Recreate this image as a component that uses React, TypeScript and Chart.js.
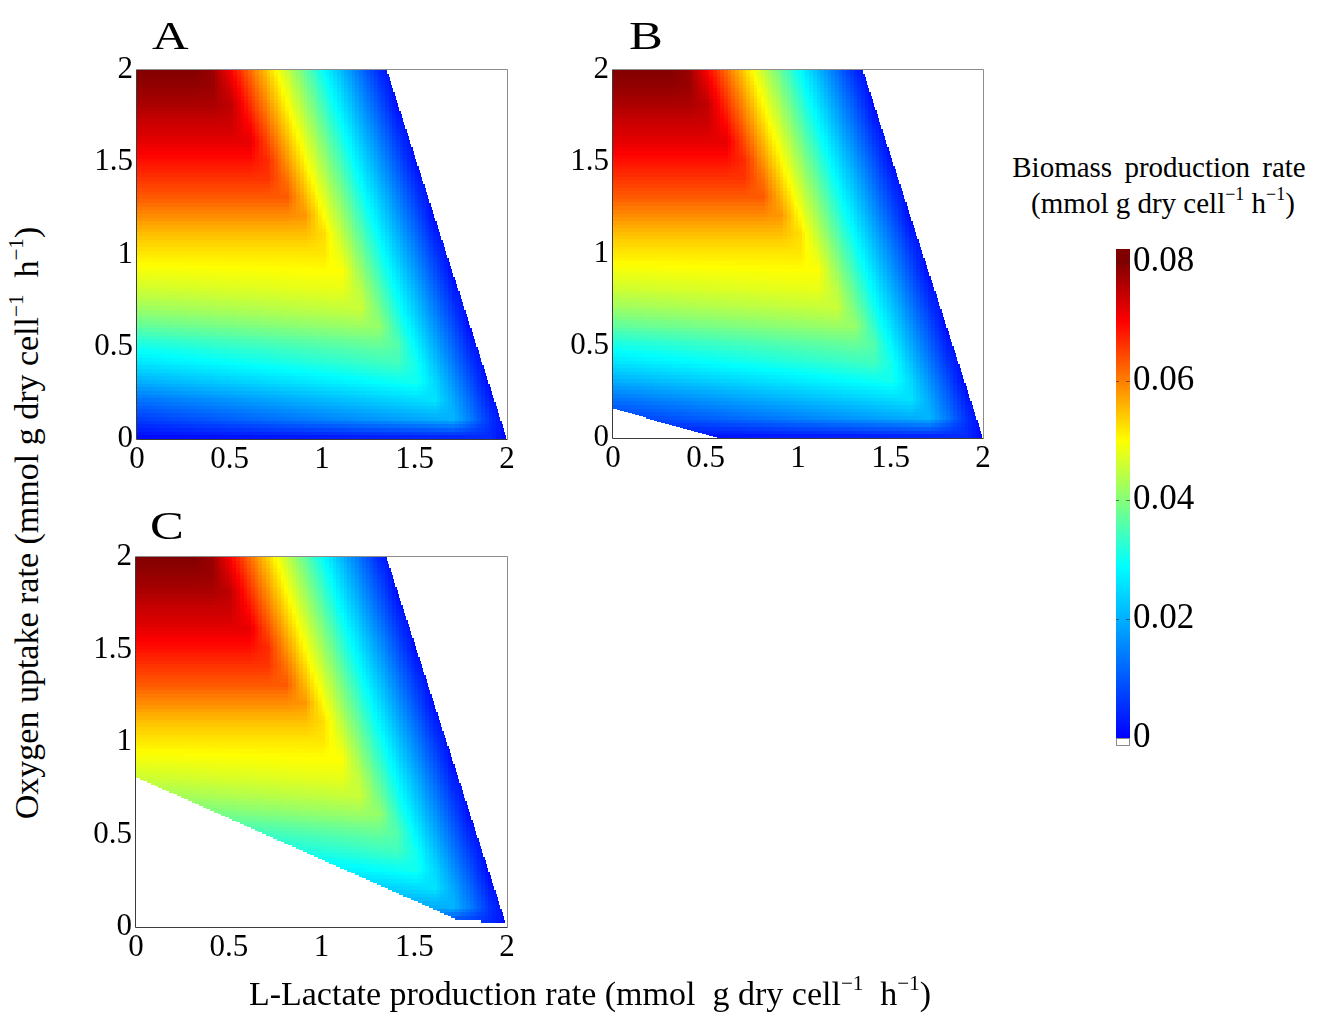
import React, { useEffect, useRef } from 'react';
import { Chart, registerables } from 'chart.js';

Chart.register(...registerables);

// ---------------- data ----------------
// grid nodes (mmol g dry cell^-1 h^-1)
const lactateNodes = [0, 0.1, 0.2, 0.3, 0.4, 0.5, 0.6, 0.7, 0.8, 0.9, 1.0, 1.1, 1.2, 1.3, 1.4, 1.5, 1.6, 1.7, 1.8, 1.9, 2.0];
const oxygenNodes = [0, 0.1, 0.2, 0.3, 0.4, 0.5, 0.6, 0.7, 0.8, 0.9, 1.0, 1.1, 1.2, 1.3, 1.4, 1.5, 1.6, 1.7, 1.8, 1.9, 2.0];

// biomass production rate, one row per oxygen node (0 -> 2), columns = lactate nodes (0 -> 2)
const biomassO00 = [0.0010, 0.0012, 0.0014, 0.0016, 0.0018, 0.0020, 0.0022, 0.0024, 0.0026, 0.0028, 0.0030, 0.0032, 0.0034, 0.0036, 0.0038, 0.0040, 0.0042, 0.0044, 0.0046, 0.0048, 0];
const biomassO01 = [0.0070, 0.0078, 0.0086, 0.0094, 0.0102, 0.0110, 0.0118, 0.0126, 0.0134, 0.0142, 0.0150, 0.0158, 0.0166, 0.0174, 0.0182, 0.0190, 0.0198, 0.0206, 0.0137, 0.0055, 0];
const biomassO02 = [0.0130, 0.0138, 0.0146, 0.0154, 0.0162, 0.0170, 0.0178, 0.0186, 0.0194, 0.0202, 0.0210, 0.0218, 0.0226, 0.0234, 0.0242, 0.0250, 0.0258, 0.0193, 0.0111, 0.0029, 0];
const biomassO03 = [0.0200, 0.0207, 0.0214, 0.0221, 0.0228, 0.0235, 0.0242, 0.0249, 0.0256, 0.0263, 0.0270, 0.0277, 0.0284, 0.0291, 0.0298, 0.0305, 0.0248, 0.0166, 0.0084, 0.0002, 0];
const biomassO04 = [0.0260, 0.0266, 0.0272, 0.0278, 0.0284, 0.0290, 0.0296, 0.0302, 0.0308, 0.0314, 0.0320, 0.0326, 0.0332, 0.0338, 0.0344, 0.0303, 0.0221, 0.0139, 0.0057, 0, 0];
const biomassO05 = [0.0310, 0.0315, 0.0320, 0.0325, 0.0330, 0.0335, 0.0340, 0.0345, 0.0350, 0.0355, 0.0360, 0.0365, 0.0370, 0.0375, 0.0359, 0.0277, 0.0195, 0.0113, 0.0031, 0, 0];
const biomassO06 = [0.0370, 0.0374, 0.0378, 0.0382, 0.0386, 0.0390, 0.0394, 0.0398, 0.0402, 0.0406, 0.0410, 0.0414, 0.0418, 0.0414, 0.0332, 0.0250, 0.0168, 0.0086, 0.0004, 0, 0];
const biomassO07 = [0.0420, 0.0423, 0.0426, 0.0429, 0.0432, 0.0435, 0.0438, 0.0441, 0.0444, 0.0447, 0.0450, 0.0453, 0.0456, 0.0387, 0.0305, 0.0223, 0.0141, 0.0059, 0, 0, 0];
const biomassO08 = [0.0460, 0.0462, 0.0464, 0.0466, 0.0468, 0.0470, 0.0472, 0.0474, 0.0476, 0.0478, 0.0480, 0.0482, 0.0443, 0.0361, 0.0279, 0.0197, 0.0115, 0.0033, 0, 0, 0];
const biomassO09 = [0.0490, 0.0491, 0.0492, 0.0493, 0.0494, 0.0495, 0.0496, 0.0497, 0.0498, 0.0499, 0.0500, 0.0498, 0.0416, 0.0334, 0.0252, 0.0170, 0.0088, 0.0006, 0, 0, 0];
const biomassO10 = [0.0520, 0.0520, 0.0520, 0.0520, 0.0520, 0.0520, 0.0520, 0.0520, 0.0520, 0.0520, 0.0520, 0.0472, 0.0390, 0.0308, 0.0226, 0.0144, 0.0062, 0, 0, 0, 0];
const biomassO11 = [0.0550, 0.0550, 0.0550, 0.0550, 0.0550, 0.0550, 0.0550, 0.0550, 0.0550, 0.0550, 0.0527, 0.0445, 0.0363, 0.0281, 0.0199, 0.0117, 0.0035, 0, 0, 0, 0];
const biomassO12 = [0.0590, 0.0590, 0.0590, 0.0590, 0.0590, 0.0590, 0.0590, 0.0590, 0.0590, 0.0582, 0.0500, 0.0418, 0.0336, 0.0254, 0.0172, 0.0090, 0.0008, 0, 0, 0, 0];
const biomassO13 = [0.0630, 0.0630, 0.0630, 0.0630, 0.0630, 0.0630, 0.0630, 0.0630, 0.0630, 0.0556, 0.0474, 0.0392, 0.0310, 0.0228, 0.0146, 0.0064, 0, 0, 0, 0, 0];
const biomassO14 = [0.0660, 0.0660, 0.0660, 0.0660, 0.0660, 0.0660, 0.0660, 0.0660, 0.0611, 0.0529, 0.0447, 0.0365, 0.0283, 0.0201, 0.0119, 0.0037, 0, 0, 0, 0, 0];
const biomassO15 = [0.0690, 0.0690, 0.0690, 0.0690, 0.0690, 0.0690, 0.0690, 0.0666, 0.0584, 0.0502, 0.0420, 0.0338, 0.0256, 0.0174, 0.0092, 0.0010, 0, 0, 0, 0, 0];
const biomassO16 = [0.0720, 0.0720, 0.0720, 0.0720, 0.0720, 0.0720, 0.0720, 0.0640, 0.0558, 0.0476, 0.0394, 0.0312, 0.0230, 0.0148, 0.0066, 0, 0, 0, 0, 0, 0];
const biomassO17 = [0.0740, 0.0740, 0.0740, 0.0740, 0.0740, 0.0740, 0.0695, 0.0613, 0.0531, 0.0449, 0.0367, 0.0285, 0.0203, 0.0121, 0.0039, 0, 0, 0, 0, 0, 0];
const biomassO18 = [0.0765, 0.0765, 0.0765, 0.0765, 0.0765, 0.0750, 0.0668, 0.0586, 0.0504, 0.0422, 0.0340, 0.0258, 0.0176, 0.0094, 0.0012, 0, 0, 0, 0, 0, 0];
const biomassO19 = [0.0785, 0.0785, 0.0785, 0.0785, 0.0780, 0.0724, 0.0642, 0.0560, 0.0478, 0.0396, 0.0314, 0.0232, 0.0150, 0.0068, 0, 0, 0, 0, 0, 0, 0];
const biomassO20 = [0.0800, 0.0800, 0.0800, 0.0800, 0.0779, 0.0697, 0.0615, 0.0533, 0.0451, 0.0369, 0.0287, 0.0205, 0.0123, 0.0041, 0, 0, 0, 0, 0, 0, 0];
const biomassRows = [
  biomassO00, biomassO01, biomassO02, biomassO03, biomassO04, biomassO05, biomassO06,
  biomassO07, biomassO08, biomassO09, biomassO10, biomassO11, biomassO12, biomassO13,
  biomassO14, biomassO15, biomassO16, biomassO17, biomassO18, biomassO19, biomassO20,
];

// feasibility edges
const rightEdgeOxygen = [0, 2];
const rightEdgeLactate = [2, 1.35];
const floorBLactate = [0, 0.56];
const floorBOxygen = [0.16, 0];
const floorCLactate = [0, 1.73, 1.85, 1.86, 2];
const floorCOxygen = [0.81, 0.04, 0.04, 0.02, 0.02];

// axes / colour bar
const axisTicks = [0, 0.5, 1, 1.5, 2];
const axisTickLabels = ['0', '0.5', '1', '1.5', '2'];
const colorbarTicks = [0, 0.02, 0.04, 0.06, 0.08];
const colorbarTickLabels = ['0', '0.02', '0.04', '0.06', '0.08'];
const colorbarRange = [-0.0013, 0.0822];
const colormapStops = [0, 0.029, 0.05, 0.07, 0.08];
const colormapColors = [
  [0, 0, 255],
  [0, 255, 255],
  [255, 255, 0],
  [255, 0, 0],
  [128, 0, 0],
];

// ---------------- helpers ----------------
const SERIF = "'Liberation Serif', 'Times New Roman', Times, serif";
const CELL = 0.02;

function interp1(xs: number[], ys: number[], x: number): number {
  if (x <= xs[0]) return ys[0];
  if (x >= xs[xs.length - 1]) return ys[ys.length - 1];
  for (let i = 0; i < xs.length - 1; i++) {
    if (x <= xs[i + 1]) {
      const t = (x - xs[i]) / (xs[i + 1] - xs[i]);
      return ys[i] + (ys[i + 1] - ys[i]) * t;
    }
  }
  return ys[ys.length - 1];
}

function shade(L: number, O: number): number {
  let i = 0;
  while (i < lactateNodes.length - 2 && L > lactateNodes[i + 1]) i++;
  let j = 0;
  while (j < oxygenNodes.length - 2 && O > oxygenNodes[j + 1]) j++;
  const tx = Math.min(1, Math.max(0, (L - lactateNodes[i]) / (lactateNodes[i + 1] - lactateNodes[i])));
  const ty = Math.min(1, Math.max(0, (O - oxygenNodes[j]) / (oxygenNodes[j + 1] - oxygenNodes[j])));
  const r0 = biomassRows[j];
  const r1 = biomassRows[j + 1];
  const a = r0[i] * (1 - tx) + r0[i + 1] * tx;
  const b = r1[i] * (1 - tx) + r1[i + 1] * tx;
  return a * (1 - ty) + b * ty;
}

function colorFor(v: number): string {
  const n = colormapStops.length;
  if (v <= colormapStops[0]) {
    const c = colormapColors[0];
    return `rgb(${c[0]},${c[1]},${c[2]})`;
  }
  if (v >= colormapStops[n - 1]) {
    const c = colormapColors[n - 1];
    return `rgb(${c[0]},${c[1]},${c[2]})`;
  }
  for (let k = 0; k < n - 1; k++) {
    if (v <= colormapStops[k + 1]) {
      const t = (v - colormapStops[k]) / (colormapStops[k + 1] - colormapStops[k]);
      const a = colormapColors[k];
      const b = colormapColors[k + 1];
      const r = Math.round(a[0] + (b[0] - a[0]) * t);
      const g = Math.round(a[1] + (b[1] - a[1]) * t);
      const bl = Math.round(a[2] + (b[2] - a[2]) * t);
      return `rgb(${r},${g},${bl})`;
    }
  }
  return 'rgb(128,0,0)';
}

type Floor = { lactate: number[]; oxygen: number[] } | null;

function makeHeatmapPlugin(floor: Floor) {
  return {
    id: 'heatmap',
    beforeDatasetsDraw(chart: any) {
      const { ctx, chartArea } = chart;
      const xs = chart.scales.x;
      const ys = chart.scales.y;
      const { left, right, top, bottom } = chartArea;
      ctx.save();
      // frame
      ctx.lineWidth = 1;
      ctx.strokeStyle = '#8c8c8c';
      ctx.beginPath();
      ctx.moveTo(left, top - 0.5);
      ctx.lineTo(right + 0.5, top - 0.5);
      ctx.lineTo(right + 0.5, bottom + 0.5);
      ctx.stroke();
      ctx.strokeStyle = '#3c3c3c';
      ctx.beginPath();
      ctx.moveTo(left - 0.5, top - 0.5);
      ctx.lineTo(left - 0.5, bottom + 0.5);
      ctx.lineTo(right + 0.5, bottom + 0.5);
      ctx.stroke();
      // cells
      const n = Math.round(2 / CELL);
      for (let i = 0; i < n; i++) {
        const L = i * CELL;
        const Lc = L + CELL / 2;
        const x0 = Math.round(xs.getPixelForValue(L));
        const x1full = Math.round(xs.getPixelForValue(L + CELL));
        const oFloor = floor ? interp1(floor.lactate, floor.oxygen, Lc) : 0;
        for (let j = 0; j < n; j++) {
          const O = j * CELL;
          const Oc = O + CELL / 2;
          const lEdge = interp1(rightEdgeOxygen, rightEdgeLactate, Oc);
          if (L >= lEdge - 1e-9) continue;
          if (O + CELL <= oFloor + 1e-9) continue;
          const oLow = Math.max(O, oFloor);
          const x1 = Math.min(x1full, Math.round(xs.getPixelForValue(lEdge)));
          const y0 = Math.round(ys.getPixelForValue(oLow));
          const y1 = Math.round(ys.getPixelForValue(O + CELL));
          if (x1 <= x0 || y0 <= y1) continue;
          ctx.fillStyle = colorFor(shade(L, oLow));
          ctx.fillRect(x0, y1, x1 - x0, y0 - y1);
        }
      }
      ctx.restore();
    },
  };
}

const colorbarPlugin = {
  id: 'colorbar',
  beforeDatasetsDraw(chart: any) {
    const { ctx, chartArea } = chart;
    const ys = chart.scales.y;
    const { left, right } = chartArea;
    ctx.save();
    const yTop = Math.round(ys.getPixelForValue(colorbarRange[1]));
    const yZero = Math.round(ys.getPixelForValue(0));
    for (let py = yTop; py < yZero; py++) {
      const v = ys.getValueForPixel(py + 0.5);
      ctx.fillStyle = colorFor(v);
      ctx.fillRect(left, py, right - left, 1);
    }
    const yMin = Math.round(ys.getPixelForValue(colorbarRange[0]));
    ctx.fillStyle = '#ffffff';
    ctx.fillRect(left, yZero, right - left, yMin - yZero);
    ctx.strokeStyle = '#8a8a8a';
    ctx.lineWidth = 1;
    ctx.strokeRect(left + 0.5, yZero + 0.5, right - left - 1, yMin - yZero - 1);
    // small tick marks on the bar
    ctx.strokeStyle = 'rgba(40,40,40,0.6)';
    for (const v of colorbarTicks) {
      if (v <= 0) continue;
      const py = Math.round(ys.getPixelForValue(v)) + 0.5;
      ctx.beginPath();
      ctx.moveTo(left, py);
      ctx.lineTo(left + 3, py);
      ctx.moveTo(right - 4, py);
      ctx.lineTo(right, py);
      ctx.stroke();
    }
    ctx.restore();
  },
};

function axisOptions(which: 'x' | 'y', size: number) {
  return {
    type: 'linear',
    min: 0,
    max: 2,
    grid: { display: false, drawTicks: false },
    border: { display: false },
    ticks: {
      font: { family: SERIF, size: 31 },
      color: '#000',
      padding: which === 'x' ? 2 : 4,
      maxRotation: 0,
      autoSkip: false,
      callback: (_v: any, i: number) => axisTickLabels[i] ?? '',
    },
    afterBuildTicks: (s: any) => {
      s.ticks = axisTicks.map((v) => ({ value: v }));
    },
    afterFit: (s: any) => {
      if (which === 'x') s.height = size;
      else s.width = size;
    },
  };
}

const Y_AXIS_W = 60;
const X_AXIS_H = 45;
const PAD_TOP = 24;
const PAD_RIGHT = 20;

const panels = [
  { key: 'A', plot: { left: 137, top: 70, width: 370, height: 369 }, floor: null as Floor, letter: { left: 152, top: 16 } },
  { key: 'B', plot: { left: 613, top: 70, width: 370, height: 368 }, floor: { lactate: floorBLactate, oxygen: floorBOxygen } as Floor, letter: { left: 629, top: 16 } },
  { key: 'C', plot: { left: 136, top: 557, width: 371, height: 370 }, floor: { lactate: floorCLactate, oxygen: floorCOxygen } as Floor, letter: { left: 150, top: 506 } },
];

const CB = { left: 1116, top: 249, width: 14, height: 497, padLeft: 10, padTop: 24, padBottom: 24, axisW: 80 };

function Sup({ children }: { children: React.ReactNode }) {
  return (
    <span style={{ fontSize: '0.62em', position: 'relative', top: '-0.72em' }}>{children}</span>
  );
}

export default function App() {
  const panelRefs = useRef<(HTMLCanvasElement | null)[]>([]);
  const cbRef = useRef<HTMLCanvasElement | null>(null);

  useEffect(() => {
    const charts: Chart[] = [];
    panels.forEach((p, idx) => {
      const canvas = panelRefs.current[idx];
      if (!canvas) return;
      const chart = new Chart(canvas, {
        type: 'scatter',
        data: { datasets: [] },
        options: {
          animation: false,
          responsive: false,
          maintainAspectRatio: false,
          devicePixelRatio: 1,
          events: [],
          layout: { padding: { top: PAD_TOP, right: PAD_RIGHT, left: 0, bottom: 0 } },
          plugins: { legend: { display: false }, tooltip: { enabled: false } },
          scales: {
            x: axisOptions('x', X_AXIS_H) as any,
            y: axisOptions('y', Y_AXIS_W) as any,
          },
        },
        plugins: [makeHeatmapPlugin(p.floor)],
      } as any);
      charts.push(chart);
    });
    if (cbRef.current) {
      const chart = new Chart(cbRef.current, {
        type: 'scatter',
        data: { datasets: [] },
        options: {
          animation: false,
          responsive: false,
          maintainAspectRatio: false,
          devicePixelRatio: 1,
          events: [],
          layout: { padding: { top: CB.padTop, bottom: CB.padBottom, left: CB.padLeft, right: 0 } },
          plugins: { legend: { display: false }, tooltip: { enabled: false } },
          scales: {
            x: { display: false, min: 0, max: 1 },
            y: {
              type: 'linear',
              position: 'right',
              min: colorbarRange[0],
              max: colorbarRange[1],
              grid: { display: false, drawTicks: false },
              border: { display: false },
              ticks: {
                font: { family: SERIF, size: 35 },
                color: '#000',
                padding: 3,
                autoSkip: false,
                callback: (_v: any, i: number) => colorbarTickLabels[i] ?? '',
              },
              afterBuildTicks: (s: any) => {
                s.ticks = colorbarTicks.map((v) => ({ value: v }));
              },
              afterFit: (s: any) => {
                s.width = CB.axisW;
              },
            },
          },
        },
        plugins: [colorbarPlugin],
      } as any);
      charts.push(chart);
    }
    return () => {
      charts.forEach((c) => c.destroy());
    };
  }, []);

  const cbCanvasW = CB.padLeft + CB.width + CB.axisW;
  const cbCanvasH = CB.padTop + CB.height + CB.padBottom;

  return (
    <div
      style={{
        position: 'absolute',
        left: 0,
        top: 0,
        width: 1325,
        height: 1016,
        background: '#ffffff',
        fontFamily: SERIF,
        color: '#000',
        overflow: 'hidden',
      }}
    >
      {panels.map((p, idx) => {
        const w = Y_AXIS_W + p.plot.width + PAD_RIGHT;
        const h = PAD_TOP + p.plot.height + X_AXIS_H;
        return (
          <React.Fragment key={p.key}>
            <canvas
              ref={(el) => {
                panelRefs.current[idx] = el;
              }}
              width={w}
              height={h}
              style={{
                position: 'absolute',
                left: p.plot.left - Y_AXIS_W,
                top: p.plot.top - PAD_TOP,
                width: w,
                height: h,
                display: 'block',
              }}
            />
            <div
              style={{
                position: 'absolute',
                left: p.letter.left,
                top: p.letter.top,
                fontSize: 39,
                lineHeight: '39px',
                whiteSpace: 'nowrap',
                transform: 'scaleX(1.3)',
                transformOrigin: 'left top',
              }}
            >
              {p.key}
            </div>
          </React.Fragment>
        );
      })}

      <canvas
        ref={cbRef}
        width={cbCanvasW}
        height={cbCanvasH}
        style={{
          position: 'absolute',
          left: CB.left - CB.padLeft,
          top: CB.top - CB.padTop,
          width: cbCanvasW,
          height: cbCanvasH,
          display: 'block',
        }}
      />

      {/* y axis title */}
      <div
        style={{
          position: 'absolute',
          left: 29,
          top: 523,
          transform: 'translate(-50%, -50%) rotate(-90deg)',
          fontSize: 34,
          lineHeight: '34px',
          whiteSpace: 'nowrap',
        }}
      >
        Oxygen uptake rate (mmol g dry cell<Sup>−1</Sup>{'\u00a0\u00a0'}h<Sup>−1</Sup>)
      </div>

      {/* x axis title */}
      <div
        style={{
          position: 'absolute',
          left: 590,
          top: 996,
          transform: 'translate(-50%, -50%)',
          fontSize: 34,
          lineHeight: '34px',
          whiteSpace: 'nowrap',
        }}
      >
        L-Lactate production rate (mmol{'\u00a0\u00a0'}g dry cell<Sup>−1</Sup>{'\u00a0\u00a0'}h<Sup>−1</Sup>)
      </div>

      {/* colour bar title */}
      <div
        style={{
          position: 'absolute',
          left: 1159,
          top: 153,
          transform: 'translateX(-50%)',
          fontSize: 29,
          lineHeight: '29px',
          whiteSpace: 'nowrap',
          wordSpacing: 5,
        }}
      >
        Biomass production rate
      </div>
      <div
        style={{
          position: 'absolute',
          left: 1163,
          top: 189,
          transform: 'translateX(-50%)',
          fontSize: 29,
          lineHeight: '29px',
          whiteSpace: 'nowrap',
        }}
      >
        (mmol g dry cell<Sup>−1</Sup> h<Sup>−1</Sup>)
      </div>
    </div>
  );
}
